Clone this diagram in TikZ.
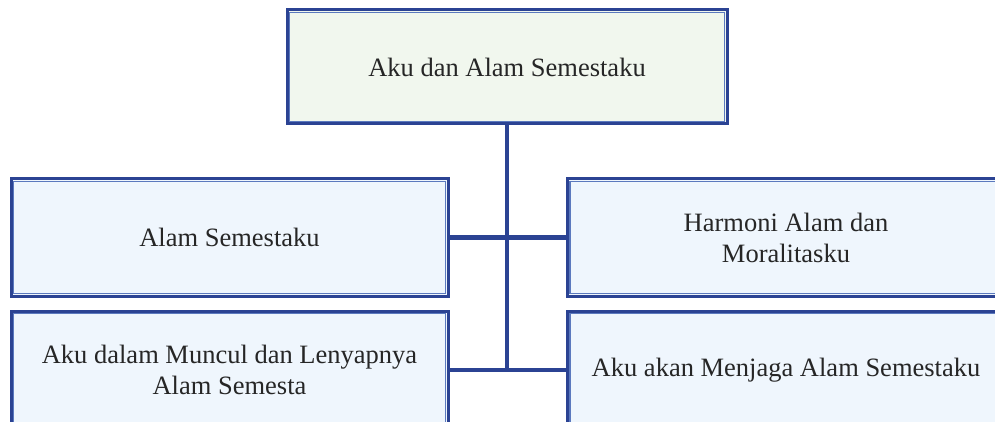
\documentclass[tikz,border=0pt]{standalone}
\usepackage{fontspec}
\setmainfont{Liberation Serif}
\definecolor{edgeblue}{HTML}{2B4393}
\definecolor{frameblue}{HTML}{5B79BE}
\definecolor{topfill}{HTML}{F1F7EE}
\definecolor{subfill}{HTML}{EFF6FD}
\begin{document}
\begin{tikzpicture}[x=1pt, y=-1pt,
        box/.style={draw=edgeblue, line width=3pt, fill=subfill, minimum width=437pt,
            minimum height=117pt, align=center, font=\fontsize{26.5}{31}\selectfont, text=black!85},
        link/.style={draw=edgeblue, line width=4.5pt},
        frame/.style={draw=frameblue, line width=1.2pt}]
            \useasboundingbox (0, 0) rectangle (995, 422);

            \node[box, fill=topfill, minimum width=440pt, minimum height=114pt](top) at (507, 67) {Aku dan Alam Semestaku};

            \node[box](left1) at (229.5, 237.5) {Alam Semestaku};
            \node[box](right1) at (786, 237.5) {Harmoni Alam dan\\Moralitasku};

            \node[box, minimum height=118pt](left2) at (229.5, 370) {Aku dalam Muncul dan Lenyapnya\\Alam Semesta};
            \node[box, minimum height=118pt](right2) at (786, 370) {Aku akan Menjaga Alam Semestaku};

            \draw[link] (top.south) -- (top.south |- left2.east);
            \draw[link] (left1.east) -- (right1.west);
            \draw[link] (left2.east) -- (right2.west);

            % thin inner frame of each box
            \foreach \b in {top, left1, right1, left2, right2}
                \draw[frame] ([shift={(4pt,-4pt)}]\b.north west) rectangle ([shift={(-4pt,4pt)}]\b.south east);
        \end{tikzpicture}
\end{document}
